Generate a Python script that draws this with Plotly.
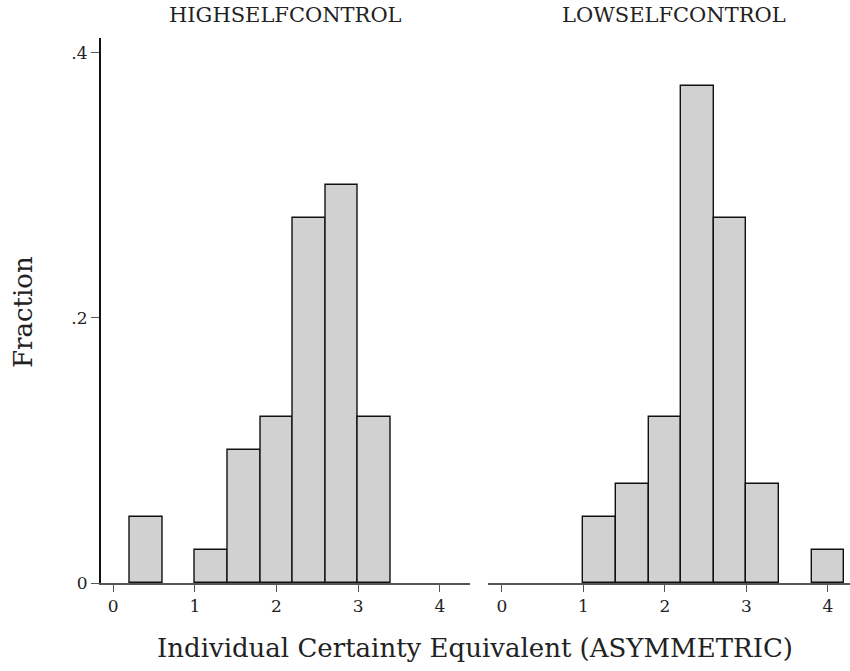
import plotly.graph_objects as go

# Data (fractions per bin of width 0.4)
high_centers = [0.4, 1.2, 1.6, 2.0, 2.4, 2.8, 3.2]
high_fraction = [0.05, 0.025, 0.1, 0.125, 0.275, 0.3, 0.125]
low_centers = [1.2, 1.6, 2.0, 2.4, 2.8, 3.2, 4.0]
low_fraction = [0.05, 0.075, 0.125, 0.375, 0.275, 0.075, 0.025]
bin_width = 0.4
panel_titles = ["HIGHSELFCONTROL", "LOWSELFCONTROL"]
x_ticks = [0, 1, 2, 3, 4]
y_ticks = [0, 0.2, 0.4]
y_tick_labels = ["0", ".2", ".4"]

FONT = "DejaVu Serif"
fill = "#d1d1d1"

fig = go.Figure()
fig.add_trace(go.Bar(x=high_centers, y=high_fraction, width=[bin_width] * len(high_centers),
                     marker=dict(color=fill, line=dict(color="#111111", width=1.4)),
                     xaxis="x", yaxis="y", showlegend=False))
fig.add_trace(go.Bar(x=low_centers, y=low_fraction, width=[bin_width] * len(low_centers),
                     marker=dict(color=fill, line=dict(color="#111111", width=1.4)),
                     xaxis="x2", yaxis="y2", showlegend=False))

W, H = 850, 671
T, B = 38, 88
d1 = [100.7 / W, 470 / W]
d2 = [488 / W, 1.0]
tickfont = dict(family=FONT, size=17, color="#222")

xcommon = dict(showline=True, linecolor="#555", linewidth=1.5, ticks="outside", ticklen=7,
               tickcolor="#555", tickwidth=1.2, tickvals=x_ticks, showgrid=False, zeroline=False,
               tickfont=tickfont)
fig.update_layout(
    width=W, height=H,
    margin=dict(l=0, r=0, t=T, b=B),
    paper_bgcolor="white", plot_bgcolor="white",
    bargap=0,
    xaxis=dict(domain=d1, range=[-0.154, 4.37], anchor="y", **xcommon),
    xaxis2=dict(domain=d2, range=[-0.17, 4.27], anchor="y2", **xcommon),
    yaxis=dict(range=[0, 0.411], anchor="x", showline=True, linecolor="#111", linewidth=1.5,
               ticks="outside", ticklen=8, tickcolor="#555", tickwidth=1.2,
               tickvals=y_ticks, ticktext=y_tick_labels, showgrid=False, zeroline=False,
               tickfont=tickfont),
    yaxis2=dict(range=[0, 0.411], anchor="x2", visible=False, showgrid=False, zeroline=False),
    font=dict(family=FONT, color="#222"),
)

plot_h = H - T - B
def paper_y(px):
    return (H - B - px) / plot_h

fig.add_annotation(text=panel_titles[0], x=285 / W, y=paper_y(15), xref="paper", yref="paper",
                   xanchor="center", yanchor="middle", showarrow=False,
                   font=dict(family=FONT, size=21, color="#222"))
fig.add_annotation(text=panel_titles[1], x=673.5 / W, y=paper_y(15), xref="paper", yref="paper",
                   xanchor="center", yanchor="middle", showarrow=False,
                   font=dict(family=FONT, size=21, color="#222"))
fig.add_annotation(text="Individual Certainty Equivalent (ASYMMETRIC)", x=475 / W, y=paper_y(648),
                   xref="paper", yref="paper", xanchor="center", yanchor="middle", showarrow=False,
                   font=dict(family=FONT, size=26, color="#222"))
fig.add_annotation(text="Fraction", x=23 / W, y=paper_y(312), xref="paper", yref="paper",
                   xanchor="center", yanchor="middle", textangle=-90, showarrow=False,
                   font=dict(family=FONT, size=26, color="#222"))

fig.write_html("out.html")
